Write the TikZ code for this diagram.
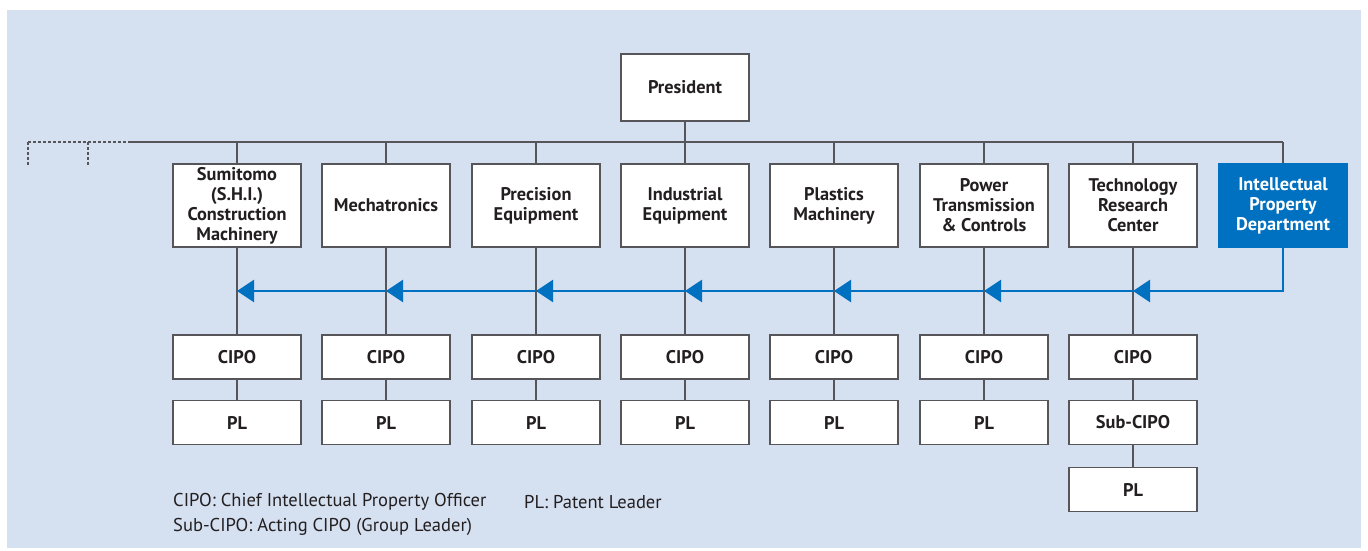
\documentclass[tikz,border=0pt]{standalone}
\usepackage{fontspec}
\setmainfont{PT Sans}
\usetikzlibrary{arrows.meta}
\definecolor{bgblue}{RGB}{213,224,241}
\definecolor{ipblue}{RGB}{0,112,192}
\definecolor{linegray}{RGB}{85,85,90}
\definecolor{inkgray}{RGB}{35,31,32}
\begin{document}
\begin{tikzpicture}[x=1bp,y=-1bp,
    unit/.style={draw=linegray,line width=1.2bp,fill=white,minimum width=128bp,
      minimum height=83bp,inner sep=0pt,align=center,text=inkgray,
      font=\bfseries\fontsize{18.4}{20}\selectfont},
    post/.style={unit,minimum height=44bp},
    link/.style={draw=linegray,line width=1.2bp},
    flow/.style={draw=ipblue,line width=2.2bp,-{Triangle[length=17bp,width=22bp]}},
    keytext/.style={anchor=west,inner sep=0pt,text=inkgray,font=\fontsize{18.6}{20}\selectfont}]
    \useasboundingbox[fill=white] (0,0) rectangle (1368,551);
    \fill[bgblue] (7,10) rectangle (1361,548);
    % president and the bus under it
    \node[unit,minimum height=67bp] (pres) at (685,87.5) {President};
    \coordinate (busL) at (130,142);
    \coordinate (busR) at (1283,142);
    \coordinate (dashA) at (28,142);
    \coordinate (dashB) at (88,142);
    \coordinate (arrow) at (237,291);
    \draw[link] (busL)--(busR);
    \draw[link] (pres)--(pres |- busR);
    \draw[linegray,line width=1.2bp,dash pattern=on 3bp off 2bp] (dashA) -- (busL);
    \draw[linegray,line width=1.2bp,dash pattern=on 3bp off 2bp] (dashA) -- ++(0,23);
    \draw[linegray,line width=1.2bp,dash pattern=on 3bp off 2bp] (dashB) -- ++(0,23);
    % business units with CIPO and PL
    \foreach \n/\x/\t in {a/237/{Sumitomo\\(S.H.I.)\\Construction\\Machinery},
        b/386/{Mechatronics}, c/536/{Precision\\Equipment},
        d/685/{Industrial\\Equipment}, e/834/{Plastics\\Machinery},
        f/984/{Power\\Transmission\\\& Controls}, g/1133/{Technology\\Research\\Center}}{
      \node[unit] (\n) at (\x,205.5) {\t};
      \node[post] (cipo\n) at (\x,357) {CIPO};
      \draw[link] (\n)--(\n |- busR);
      \draw[link] (\n)--(cipo\n);
    }
    \foreach \n in {a,b,c,d,e,f}{
      \node[post] (pl\n) at (cipo\n |- 0,422.5) {PL};
      \draw[link] (cipo\n)--(pl\n);
    }
    \node[post] (subg) at (1133,422.5) {Sub-CIPO};
    \node[post] (plg) at (1133,489.5) {PL};
    \draw[link] (cipog)--(subg);
    \draw[link] (subg)--(plg);
    % intellectual property department
    \node[unit,draw=ipblue,fill=ipblue,text=white] (ipd) at (1283,205.5) {Intellectual\\Property\\Department};
    \draw[link] (ipd)--(busR);
    \draw[draw=ipblue,line width=2.2bp] (ipd.south) |- (g |- arrow);
    \draw[flow] (ipd |- arrow)--(g |- arrow);
    \draw[flow] (g |- arrow)--(f |- arrow);
    \draw[flow] (f |- arrow)--(e |- arrow);
    \draw[flow] (e |- arrow)--(d |- arrow);
    \draw[flow] (d |- arrow)--(c |- arrow);
    \draw[flow] (c |- arrow)--(b |- arrow);
    \draw[flow] (b |- arrow)--(a |- arrow);
    % key
    \node[keytext] (key1) at (173,502) {CIPO: Chief Intellectual Property Officer};
    \node[keytext] (key2) at (173,527) {Sub-CIPO: Acting CIPO (Group Leader)};
    \node[keytext] (key3) at (524,502) {PL: Patent Leader};
\end{tikzpicture}
\end{document}
